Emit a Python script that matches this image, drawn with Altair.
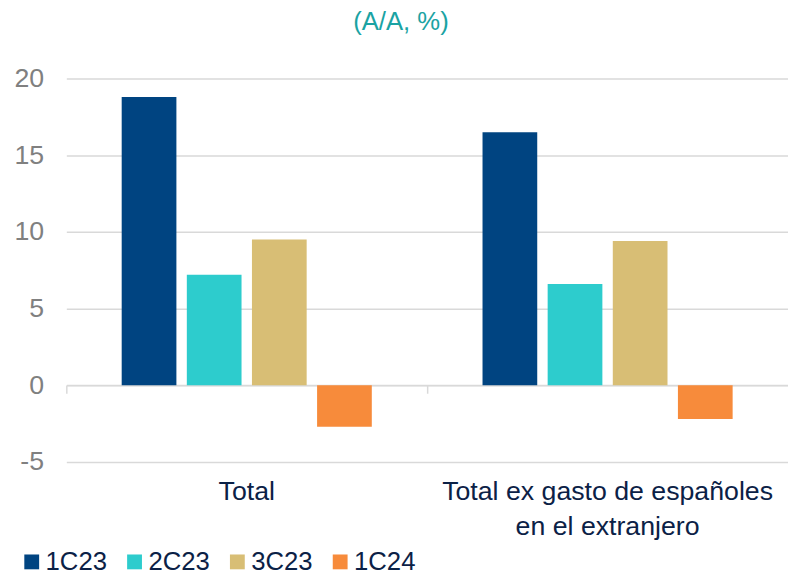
import altair as alt
import pandas as pd

groups = ["Total", "Total ex gasto de españoles\nen el extranjero"]
series = ["1C23", "2C23", "3C23", "1C24"]
values_total = [18.8, 7.2, 9.5, -2.7]
values_ex = [16.5, 6.6, 9.4, -2.2]
colors = ["#004481", "#2DCCCD", "#D8BE75", "#F78B3B"]

rows = []
for s, v in zip(series, values_total):
    rows.append({"grupo": groups[0], "serie": s, "valor": v})
for s, v in zip(series, values_ex):
    rows.append({"grupo": groups[1], "serie": s, "valor": v})
df = pd.DataFrame(rows)

FONT = "Liberation Sans"

xscale = alt.Scale(domain=groups, paddingInner=0, paddingOuter=0)

bars = alt.Chart(df).mark_bar().encode(
    x=alt.X("grupo:N", sort=groups, scale=xscale, title=None,
            axis=alt.Axis(labelAngle=0, labelFontSize=27, labelColor="#0B2146",
                          labelFont=FONT, labelPadding=17, labelLineHeight=35,
                          labelLimit=0,
                          labelExpr="split(datum.label, '\\n')",
                          domain=False, ticks=False, grid=False)),
    xOffset=alt.XOffset("serie:N", sort=series,
                        scale=alt.Scale(paddingInner=0.16, paddingOuter=0.85)),
    y=alt.Y("valor:Q", scale=alt.Scale(domain=[-5, 20], nice=False), title=None,
            axis=alt.Axis(values=[-5, 0, 5, 10, 15, 20], labelFontSize=27,
                          labelColor="#808080", labelFont=FONT, labelPadding=23,
                          labelExpr="toString(datum.value)",
                          domain=False, ticks=False, gridColor="#D9D9D9",
                          gridWidth=1.5)),
    color=alt.Color("serie:N", sort=series,
                    scale=alt.Scale(domain=series, range=colors),
                    legend=alt.Legend(title=None, orient="none", direction="horizontal",
                                      legendX=-48, legendY=476, symbolType="square",
                                      symbolSize=225, symbolStrokeWidth=0,
                                      labelFontSize=26, labelColor="#0B2146",
                                      labelFont=FONT, labelOffset=1,
                                      columnPadding=14)),
)

zero_axis = alt.Chart(pd.DataFrame({"grupo": groups, "valor": [0, 0]})).mark_tick(opacity=0).encode(
    x=alt.X("grupo:N", sort=groups, scale=xscale, title=None,
            axis=alt.Axis(orient="bottom", offset=-77.6, labels=False, grid=False,
                          domain=True, domainColor="#D9D9D9", domainWidth=1.5,
                          ticks=True, tickColor="#D9D9D9", tickWidth=1.5,
                          tickSize=8, bandPosition=0)),
    y=alt.Y("valor:Q"),
)

chart = alt.layer(bars, zero_axis).resolve_axis(x="independent").properties(
    width=730,
    height=388,
    padding={"left": 5, "top": -2, "right": 0, "bottom": 0},
    title=alt.Title("(A/A, %)", fontSize=26, font=FONT, fontWeight="normal",
                    color="#1AA3A3", anchor="middle", frame="bounds", offset=30),
).configure_view(stroke=None)

chart.save("out.html", embed_options={"renderer": "svg", "actions": False})
